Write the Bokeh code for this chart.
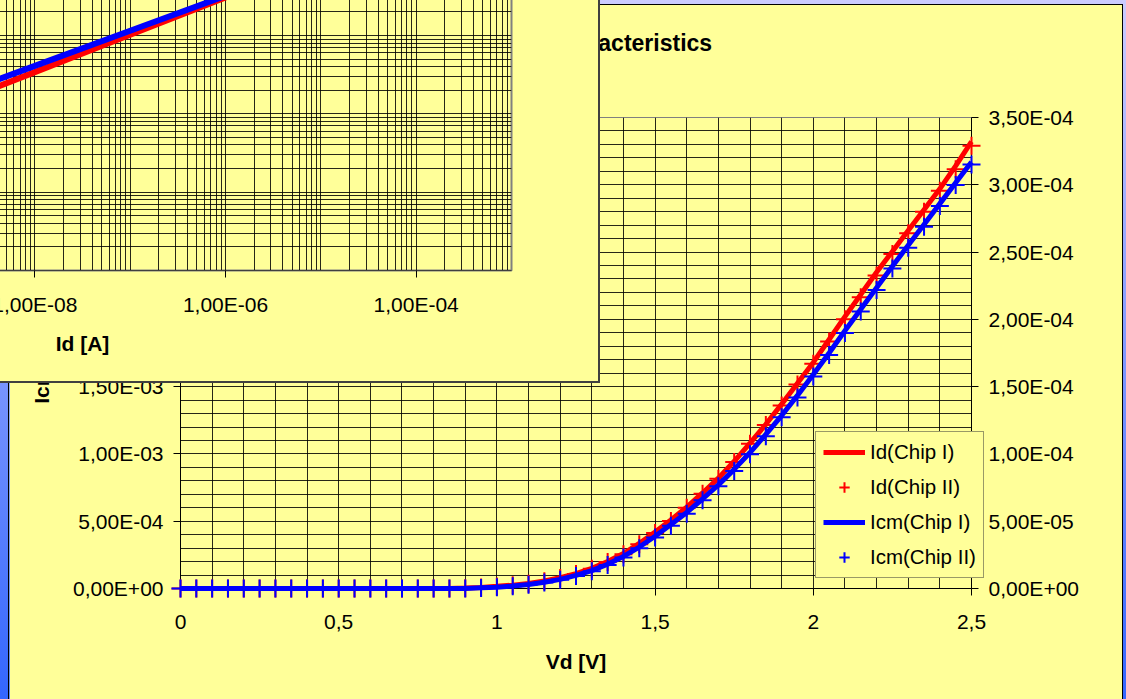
from bokeh.plotting import figure
from bokeh.models import (Range1d, LinearAxis, SingleIntervalTicker, FixedTicker,
                          CustomJSTickFormatter, Legend, LegendItem)
from bokeh.layouts import row
from bokeh.embed import file_html
from bokeh.resources import INLINE

# ---- forward sweep, Vd [V] ----
vd = [0.00, 0.05, 0.10, 0.15, 0.20, 0.25, 0.30, 0.35, 0.40, 0.45,
      0.50, 0.55, 0.60, 0.65, 0.70, 0.75, 0.80, 0.85, 0.90, 0.95,
      1.00, 1.05, 1.10, 1.15, 1.20, 1.25, 1.30, 1.35, 1.40, 1.45,
      1.50, 1.55, 1.60, 1.65, 1.70, 1.75, 1.80, 1.85, 1.90, 1.95,
      2.00, 2.05, 2.10, 2.15, 2.20, 2.25, 2.30, 2.35, 2.40, 2.45, 2.50]

# diode current Id [uA] (right axis)
id_chip1_uA = [0, 0, 0, 0, 0, 0, 0, 0, 0, 0,
               0, 0, 0, 0, 0, 0, 0, 0, 0.3, 0.8,
               1.6, 2.5, 3.8, 5.6, 8.0, 11.0, 15.0, 20.0, 26.0, 33.5,
               42.0, 51.0, 60.5, 71.0, 82.0, 94.5, 108.0, 122.0, 137.0, 152.5,
               168.0, 185.0, 202.0, 218.5, 235.0, 250.5, 266.0, 281.5, 297.0, 314.0, 332.0]
id_chip2_uA = [0, 0, 0, 0, 0, 0, 0, 0, 0, 0,
               0, 0, 0, 0, 0, 0, 0, 0, 0.2, 0.7,
               1.4, 2.4, 3.6, 5.4, 7.8, 10.8, 14.6, 19.6, 25.5, 32.8,
               41.2, 50.2, 60.0, 70.5, 81.5, 94.0, 107.5, 121.5, 136.0, 151.5,
               167.0, 183.5, 200.0, 216.5, 232.5, 248.5, 264.0, 280.0, 295.5, 311.5, 329.0]

# common-mode current Icm [uA] (left axis)
icm_chip1_uA = [0, 0, 0, 0, 0, 0, 0, 0, 0, 0,
                0, 0, 0, 0, 0, 0, 0, 0, 0, 5,
                10, 18, 30, 46, 68, 97, 133, 180, 238, 308,
                388, 475, 565, 665, 770, 885, 1010, 1145, 1285, 1435,
                1590, 1750, 1915, 2075, 2235, 2395, 2550, 2705, 2860, 3015, 3170]
icm_chip2_uA = [0, 0, 0, 0, 0, 0, 0, 0, 0, 0,
                0, 0, 0, 0, 0, 0, 0, 0, 0, 4,
                9, 17, 28, 44, 65, 93, 128, 174, 231, 300,
                379, 466, 556, 655, 760, 874, 998, 1132, 1272, 1420,
                1575, 1735, 1898, 2058, 2218, 2378, 2532, 2688, 2842, 2998, 3150]

# log-log inset: current vs Id [A]
inset_id = [1e-9, 1e-8, 1e-7, 1e-6, 1e-5, 1e-4]
inset_red = [1.14e-7, 3.41e-7, 1.02e-6, 3.05e-6, 9.1e-6, 2.7e-5]
inset_blue = [1.46e-7, 4.09e-7, 1.15e-6, 3.21e-6, 9.4e-6, 2.8e-5]

BG = "#FFFF99"
FONT = "Liberation Sans"
RED = "#FF0000"
BLUE = "#0000FF"

X_MAX = 2.5
LEFT_MAX = 3.5e-3
RIGHT_MAX = 3.5e-4
# pixel sizes of the axes frame, used to give the data layer a small overhang
FRAME_W, FRAME_H = 791, 471
PAD_L, PAD_R, PAD_B = 10, 19, 10


def to_amps(values_uA):
    return [v * 1e-6 for v in values_uA]


sci_fmt = CustomJSTickFormatter(code="""
const s = tick.toExponential(2);
const parts = s.split('e');
const e = parseInt(parts[1]);
const sign = e < 0 ? '-' : '+';
const d = String(Math.abs(e)).padStart(2, '0');
return parts[0].replace('.', ',') + 'E' + sign + d;
""")
dec_fmt = CustomJSTickFormatter(code="""
return String(Number(tick.toFixed(2))).replace('.', ',');
""")


def style_axis(ax):
    ax.major_tick_out = 7
    ax.major_tick_in = 0
    ax.minor_tick_out = 0
    ax.minor_tick_in = 0
    ax.axis_line_color = "#000000"
    ax.major_tick_line_color = "#000000"
    ax.major_label_text_font = FONT
    ax.major_label_text_font_size = "21px"
    ax.major_label_text_color = "#000000"
    ax.axis_label_text_font = FONT
    ax.axis_label_text_font_size = "21px"
    ax.axis_label_text_font_style = "bold"
    ax.axis_label_text_color = "#000000"


# ---- main chart: background, grid, axes and title ----
p = figure(width=1113, height=742,
           x_range=Range1d(0, X_MAX), y_range=Range1d(0, LEFT_MAX),
           output_backend="svg", toolbar_location=None,
           min_border_left=171, min_border_right=151, min_border_top=160, min_border_bottom=111,
           background_fill_color=BG, border_fill_color=BG)
p.extra_y_ranges = {"right": Range1d(0, RIGHT_MAX)}
right_axis = LinearAxis(y_range_name="right")
p.add_layout(right_axis, "right")

left_axis = p.left[0]
bottom_axis = p.below[0]
for ax in (left_axis, right_axis, bottom_axis):
    style_axis(ax)

left_axis.ticker = SingleIntervalTicker(interval=5e-4, num_minor_ticks=0)
left_axis.formatter = sci_fmt
left_axis.major_label_standoff = 10
left_axis.axis_label = "Icm, Id [A]"
left_axis.axis_label_standoff = 17

right_axis.ticker = SingleIntervalTicker(interval=5e-5, num_minor_ticks=0)
right_axis.formatter = sci_fmt
right_axis.major_label_standoff = 10

bottom_axis.ticker = SingleIntervalTicker(interval=0.5, num_minor_ticks=0)
bottom_axis.formatter = dec_fmt
bottom_axis.major_label_standoff = 19
bottom_axis.axis_label = "Vd [V]"
bottom_axis.axis_label_standoff = 18

p.xgrid.ticker = SingleIntervalTicker(interval=0.1, num_minor_ticks=0)
p.ygrid.ticker = SingleIntervalTicker(interval=1e-4, num_minor_ticks=0)
for g in (p.xgrid, p.ygrid):
    g.grid_line_color = "#000000"
    g.grid_line_alpha = 0.85
    g.grid_line_width = 1

p.outline_line_color = "#808080"
p.outline_line_width = 1

p.title.text = "Diode I-V Characteristics"
p.title.align = "center"
p.title.text_font = FONT
p.title.text_font_size = "23px"
p.title.text_font_style = "bold"
p.title.text_color = "#000000"
p.title.standoff = 124

p.styles = {"position": "absolute", "left": "9px", "top": "-43px", "z-index": "1",
            "clip-path": "inset(48px 0px 0px 0px)"}

# ---- main chart: curves, markers and legend (same scales, frame a little larger) ----
dx = X_MAX / FRAME_W
dl = LEFT_MAX / FRAME_H
dr = RIGHT_MAX / FRAME_H
q = figure(width=1113, height=752,
           x_range=Range1d(-PAD_L * dx, X_MAX + PAD_R * dx),
           y_range=Range1d(-PAD_B * dl, LEFT_MAX),
           x_axis_location=None, y_axis_location=None,
           output_backend="svg", toolbar_location=None,
           min_border_left=171 - PAD_L, min_border_right=151 - PAD_R,
           min_border_top=160, min_border_bottom=111,
           background_fill_color=None, border_fill_color=None)
q.extra_y_ranges = {"right": Range1d(-PAD_B * dr, RIGHT_MAX)}
q.grid.visible = False
q.outline_line_color = None

r_id1 = q.line(vd, to_amps(id_chip1_uA), y_range_name="right", line_color=RED, line_width=5)
r_id2 = q.scatter(vd, to_amps(id_chip2_uA), y_range_name="right", marker="cross", size=18,
                  line_color=RED, line_width=2)
r_icm1 = q.line(vd, to_amps(icm_chip1_uA), line_color=BLUE, line_width=5)
r_icm2 = q.scatter(vd, to_amps(icm_chip2_uA), marker="cross", size=18,
                   line_color=BLUE, line_width=2)

legend = Legend(items=[LegendItem(label="Id(Chip I)", renderers=[r_id1]),
                       LegendItem(label="Id(Chip II)", renderers=[r_id2]),
                       LegendItem(label="Icm(Chip I)", renderers=[r_icm1]),
                       LegendItem(label="Icm(Chip II)", renderers=[r_icm2])],
                location=(645, 20), background_fill_color=BG, background_fill_alpha=1.0,
                border_line_color="#333333", border_line_width=1,
                label_text_font=FONT, label_text_font_size="20.5px", label_text_color="#000000",
                glyph_width=42, glyph_height=26, label_height=26, spacing=9,
                padding=7, margin=0, label_standoff=5)
q.add_layout(legend, "center")

q.styles = {"position": "absolute", "left": "9px", "top": "-43px", "z-index": "2",
            "clip-path": "inset(48px 0px 0px 0px)"}

# ---- log-log inset ----
ins = figure(width=1115, height=752, x_axis_type="log", y_axis_type="log",
             x_range=Range1d(1e-12, 1e-3), y_range=Range1d(1e-9, 1.38e-3),
             y_axis_location=None, output_backend="svg", toolbar_location=None,
             min_border_left=170, min_border_right=87, min_border_top=160, min_border_bottom=111,
             background_fill_color=BG, border_fill_color=BG)

ix = ins.below[0]
style_axis(ix)
ix.ticker = FixedTicker(ticks=[1e-8, 1e-6, 1e-4], minor_ticks=[])
ix.formatter = sci_fmt
ix.major_label_standoff = 15
ix.axis_label = "Id [A]"
ix.axis_label_standoff = 13
ix.axis_line_color = "#404040"

ins.xgrid.ticker = FixedTicker(ticks=[m * 10.0 ** k for k in range(-12, -3) for m in range(1, 10)] + [1e-3])
ins.ygrid.ticker = FixedTicker(ticks=[m * 10.0 ** k for k in range(-9, -3) for m in range(1, 10)] + [1e-3])
for g in (ins.xgrid, ins.ygrid):
    g.grid_line_color = "#000000"
    g.grid_line_alpha = 0.85
    g.grid_line_width = 1

ins.outline_line_color = "#808080"
ins.outline_line_width = 2

ins.line(inset_id, inset_red, line_color=RED, line_width=6)
ins.line(inset_id, inset_blue, line_color=BLUE, line_width=6)

ins.styles = {"position": "absolute", "left": "-517px", "top": "-371px", "z-index": "3",
              "box-shadow": "2px 2px 0 #404040"}

frame_lines = ("linear-gradient(#000000, #000000) 8px 4px / 1115px 1px no-repeat, "
               "linear-gradient(#000000, #000000) 8px 4px / 1px 760px no-repeat, "
               "linear-gradient(#000000, #000000) 1122px 4px / 1px 760px no-repeat, "
               "linear-gradient(to bottom, #CCCCFF 0px, #3366FF 699px)")
page = row(p, q, ins, width=1126, height=752,
           styles={"position": "fixed", "left": "0px", "top": "0px", "overflow": "hidden",
                   "background": frame_lines})

open("out.html", "w").write(file_html(page, INLINE))
